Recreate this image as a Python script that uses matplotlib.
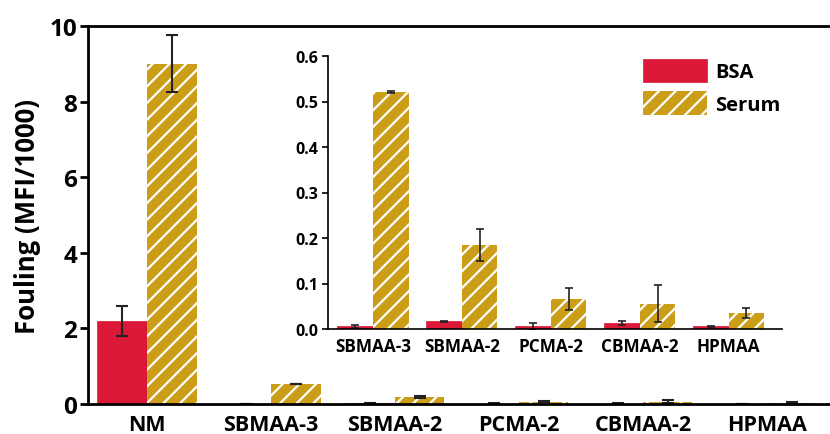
import matplotlib.pyplot as plt
import numpy as np

plt.rcParams['font.family'] = ['Open Sans', 'DejaVu Sans']
plt.rcParams['font.weight'] = 'bold'
plt.rcParams['hatch.linewidth'] = 1.6

categories = ['NM', 'SBMAA-3', 'SBMAA-2', 'PCMA-2', 'CBMAA-2', 'HPMAA']
bsa = [2.2, 0.006, 0.017, 0.006, 0.013, 0.006]
bsa_err = [0.4, 0.003, 0.001, 0.008, 0.004, 0.001]
serum = [9.0, 0.52, 0.185, 0.066, 0.056, 0.035]
serum_err = [0.75, 0.002, 0.035, 0.025, 0.04, 0.011]

red = '#DC1838'
gold = '#CC9E18'

fig = plt.figure(figsize=(8.3, 4.35), dpi=100)
ax = fig.add_axes([88/830, 1-405/435, 1-88/830, 378/435])

x = np.arange(len(categories))
w = 0.4
ax.bar(x - w/2, bsa, w, color=red, edgecolor=red, linewidth=0.5,
       yerr=bsa_err, capsize=4, error_kw=dict(elinewidth=1.5, capthick=1.5, ecolor='#222222'), label='BSA')
ax.bar(x + w/2, serum, w, color=gold, edgecolor='white', linewidth=0, hatch='//',
       yerr=serum_err, capsize=4, error_kw=dict(elinewidth=1.5, capthick=1.5, ecolor='#222222'), label='Serum')
ax.set_xlim(-0.476, 5.51)
ax.set_ylim(0, 10)
ax.set_xticks(x)
ax.set_xticklabels(categories, fontsize=15.5, fontweight='bold')
ax.tick_params(axis='x', length=0, pad=7)
ax.set_yticks([0, 2, 4, 6, 8, 10])
ax.tick_params(axis='y', labelsize=17.5, width=2, length=6, pad=2)
for lab in ax.get_yticklabels():
    lab.set_fontweight('bold')
ax.set_ylabel('Fouling (MFI/1000)', fontsize=18.5, fontweight='bold', labelpad=6)
ax.spines['right'].set_visible(False)
for s in ['left', 'bottom', 'top']:
    ax.spines[s].set_linewidth(2)

# inset
ins = fig.add_axes([328/830, 1-330/435, (782-328)/830, (330-57)/435])
xi = np.arange(len(categories) - 1)
ins.bar(xi - w/2, bsa[1:], w, color=red, edgecolor=red, linewidth=0.5,
        yerr=bsa_err[1:], capsize=3, error_kw=dict(elinewidth=1.2, capthick=1.2, ecolor='#222222'))
ins.bar(xi + w/2, serum[1:], w, color=gold, edgecolor='white', linewidth=0, hatch='//',
        yerr=serum_err[1:], capsize=3, error_kw=dict(elinewidth=1.2, capthick=1.2, ecolor='#222222'))
ins.set_xlim(-0.506, 4.6)
ins.set_ylim(0, 0.6)
ins.set_xticks(xi)
ins.set_xticklabels(categories[1:], fontsize=12.3, fontweight='bold')
ins.tick_params(axis='x', length=0, pad=6)
ins.set_yticks([0.0, 0.1, 0.2, 0.3, 0.4, 0.5, 0.6])
ins.set_yticklabels(['0.0', '0.1', '0.2', '0.3', '0.4', '0.5', '0.6'], fontsize=11.5, fontweight='bold')
ins.tick_params(axis='y', width=1.2, length=4, pad=3)
ins.spines['right'].set_visible(False)
ins.spines['top'].set_visible(False)
for s in ['left', 'bottom']:
    ins.spines[s].set_linewidth(1.2)
ins.patch.set_alpha(0)

handles, labels = ax.get_legend_handles_labels()
fig.legend(handles, labels, loc='upper left', bbox_to_anchor=(643/830, 1-60/435),
           frameon=False, prop=dict(weight='bold', size=14.5), borderaxespad=0,
           handlelength=3.2, handleheight=1.4, handletextpad=0.4, labelspacing=0.45, borderpad=0)

fig.savefig('out.png', dpi=100)
